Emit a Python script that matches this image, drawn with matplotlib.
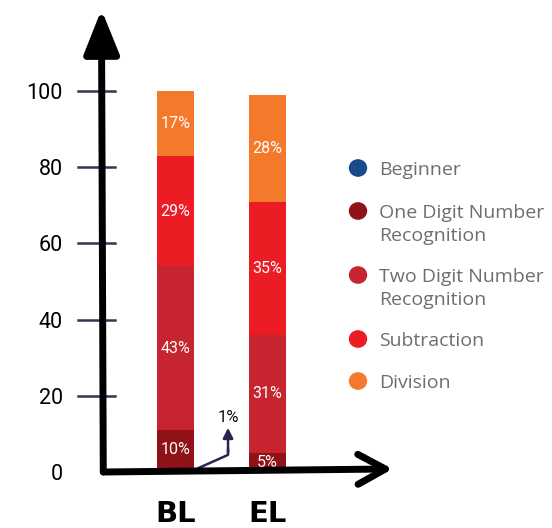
import matplotlib.pyplot as plt

# stacked shares (%) per level, bottom to top
levels = ["BL", "EL"]
categories = ["Beginner", "One Digit Number\nRecognition", "Two Digit Number\nRecognition",
              "Subtraction", "Division"]
beginner = [1, 0]
one_digit = [10, 5]
two_digit = [43, 31]
subtraction = [29, 35]
division = [17, 28]
yticks = [0, 20, 40, 60, 80, 100]

colors = ["#1a4a8c", "#8e1218", "#c6252f", "#ec1c24", "#f4792b"]
series = [beginner, one_digit, two_digit, subtraction, division]

W, H = 552, 528
fig = plt.figure(figsize=(W / 100, H / 100), dpi=100)
# axes starts right on the hand drawn axis lines
ax = fig.add_axes([103 / W, 56 / H, (W - 103) / W, 472 / H])
ax.set_xlim(-0.788, 4.092)
ax.set_ylim(0, 123.9)
for s in ax.spines.values():
    s.set_visible(False)

x = range(len(levels))
bottom = [0, 0]
for vals, c in zip(series, colors):
    ax.bar(x, vals, width=0.4, bottom=bottom, color=c, zorder=2)
    for i, v in enumerate(vals):
        if v >= 5:
            ax.text(i, bottom[i] + v / 2, f"{v}%", ha="center", va="center",
                    color="white", fontsize=11.5, family="Roboto", zorder=3)
    bottom = [b + v for b, v in zip(bottom, vals)]

# callout for the tiny beginner slice
ax.plot([0.2, 0.571, 0.571], [0.5, 4.5, 6], color="#2b2350", lw=1.8, zorder=4,
        solid_capstyle="round", solid_joinstyle="round")
ax.annotate("", xy=(0.571, 11.6), xytext=(0.571, 5),
            arrowprops=dict(arrowstyle="-|>,head_length=0.5,head_width=0.25",
                            color="#2b2350", lw=1.8, mutation_scale=12, shrinkA=0, shrinkB=0),
            zorder=4)
ax.text(0.571, 14.3, f"{beginner[0]}%", ha="center", va="center", fontsize=12,
        family="Roboto", color="#111111")

# y tick dashes crossing the axis
for t in yticks[1:]:
    ax.plot([-1.06, -0.658], [t, t], color="#3b3350", lw=1.8, clip_on=False, zorder=4)

# hand drawn axes
ax.annotate("", xy=(-0.805, 121.4), xytext=(-0.785, 0),
            arrowprops=dict(arrowstyle="-|>,head_length=1.5,head_width=0.6",
                            lw=5, color="black", mutation_scale=18, capstyle="round",
                            shrinkA=0, shrinkB=0),
            annotation_clip=False, zorder=5)
ax.annotate("", xy=(2.36, 0.8), xytext=(-0.785, 0),
            arrowprops=dict(arrowstyle="->,head_length=1.1,head_width=0.6",
                            lw=5, color="black", mutation_scale=18, capstyle="round",
                            shrinkA=0, shrinkB=0),
            annotation_clip=False, zorder=5)

ax.set_yticks(yticks)
ax.set_yticklabels([str(t) for t in yticks], fontsize=15.5, family="Roboto")
ax.tick_params(axis="y", length=0, pad=29)
ax.set_xticks(list(x))
ax.set_xticklabels(levels, fontsize=21, fontweight="bold")
ax.tick_params(axis="x", length=0, pad=20)

# legend: marker sits on the first line of each label, 23px line step
rows = [168, 211, 275, 339, 381]
for lab, c, py in zip(categories, colors, rows):
    fig.patches.append(plt.Circle((358 / W, 1 - py / H), 8.5 / W, transform=fig.transFigure,
                                  color=c, figure=fig))
    for k, line in enumerate(lab.split("\n")):
        fig.text(379 / W, 1 - (py + 7 + 23 * k) / H, line, ha="left", va="baseline",
                 fontsize=14, family="Open Sans", color="#6e6e6e")
fig.savefig("out.png", dpi=100)
